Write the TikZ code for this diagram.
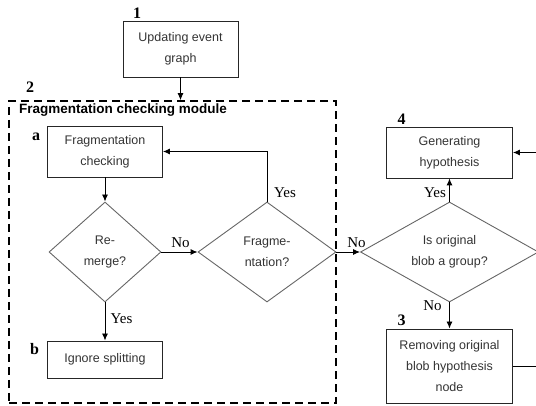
\documentclass[tikz,border=0pt]{standalone}
\usepackage{fontspec}
\setmainfont{Liberation Serif}
\setsansfont{Liberation Sans}
\usetikzlibrary{positioning, arrows.meta, shapes.geometric}

\begin{document}
\begin{tikzpicture}[
    x=1pt, y=-1pt,
    boxfont/.style={font=\sffamily\fontsize{12.5}{21}\selectfont},
    block/.style={
        rectangle, draw=black!85, line width=0.9pt,
        align=center, text=black!80, boxfont, inner sep=2pt
    },
    decision/.style={
        diamond, draw=black!60, line width=0.9pt,
        align=center, text=black!80, boxfont, inner sep=0pt
    },
    modbox/.style={
        rectangle, draw=black, line width=1.6pt, dash pattern=on 8pt off 5pt
    },
    numlbl/.style={font=\bfseries\fontsize{16}{16}\selectfont, inner sep=0pt},
    ynlbl/.style={font=\fontsize{15}{15}\selectfont, inner sep=0pt},
    arr/.style={-{Latex[length=7pt,width=6pt]}, line width=0.9pt},
    plain/.style={line width=0.9pt}
]
\useasboundingbox (0,0) rectangle (536,406);

% ---------------- Step 1 ----------------
\node[block, minimum width=115pt, minimum height=56pt] (upd) at (180.5,49) {Updating event\\graph};
\node[numlbl] (n1) at (137,13) {1};

% ---------------- Fragmentation checking module ----------------
\node[modbox, minimum width=327pt, minimum height=302pt] (modbox) at (172.5,252) {};
\node[numlbl] (n2) at (30,87) {2};
\node[anchor=west, font=\sffamily\bfseries\fontsize{13.5}{14}\selectfont, inner sep=0pt] (modtitle) at (19,110) {Fragmentation checking module};

\node[block, minimum width=115pt, minimum height=51pt] (fchk) at (105,151.5) {Fragmentation\\checking};
\node[numlbl] (na) at (36,137) {a};

\node[decision, aspect=1.12, minimum width=112pt, minimum height=100pt] (remerge) at (105,252) {Re-\\merge?};
\node[decision, aspect=1.38, minimum width=138pt, minimum height=100pt] (frag) at (267,252) {Fragme-\\ntation?};

\node[block, minimum width=115pt, minimum height=37pt] (ignore) at (105,359.5) {Ignore splitting};
\node[numlbl] (nb) at (34.5,349) {b};

% ---------------- Steps 3 and 4 ----------------
\node[decision, aspect=1.78, minimum width=178pt, minimum height=100pt] (grp) at (449.5,252) {Is original\\blob a group?};

\node[block, minimum width=126pt, minimum height=51pt] (gen) at (449.5,152.5) {Generating\\hypothesis};
\node[numlbl] (n4) at (401.5,119) {4};

\node[block, minimum width=126pt, minimum height=74pt] (rem) at (449.5,366) {Removing original\\blob hypothesis\\node};
\node[numlbl] (n3) at (401.5,320.5) {3};

\coordinate (genin) at (540,152.5);
\coordinate (remout) at (540,366);

% ---------------- Yes / No ----------------
\node[ynlbl] (yfrag) at (285,193) {Yes};
\node[ynlbl] (nremerge) at (180.5,243) {No};
\node[ynlbl] (yremerge) at (121.5,318.5) {Yes};
\node[ynlbl] (nfrag) at (356.5,243) {No};
\node[ynlbl] (ygrp) at (435,193) {Yes};
\node[ynlbl] (ngrp) at (432.5,305.5) {No};

% ---------------- Arrows ----------------
\draw[arr] (upd.south) -- (upd.south |- modbox.north);
\draw[arr] (fchk) -- (remerge);
\draw[arr] (remerge) -- (ignore);
\draw[arr] (remerge) -- (frag);
\draw[arr] (frag.north) |- (fchk.east);
\draw[arr] (frag) -- (grp);
\draw[arr] (grp) -- (gen);
\draw[arr] (grp) -- (rem);
\draw[arr] (genin) -- (gen.east);
\draw[plain] (rem.east) -- (remout);

\end{tikzpicture}
\end{document}
